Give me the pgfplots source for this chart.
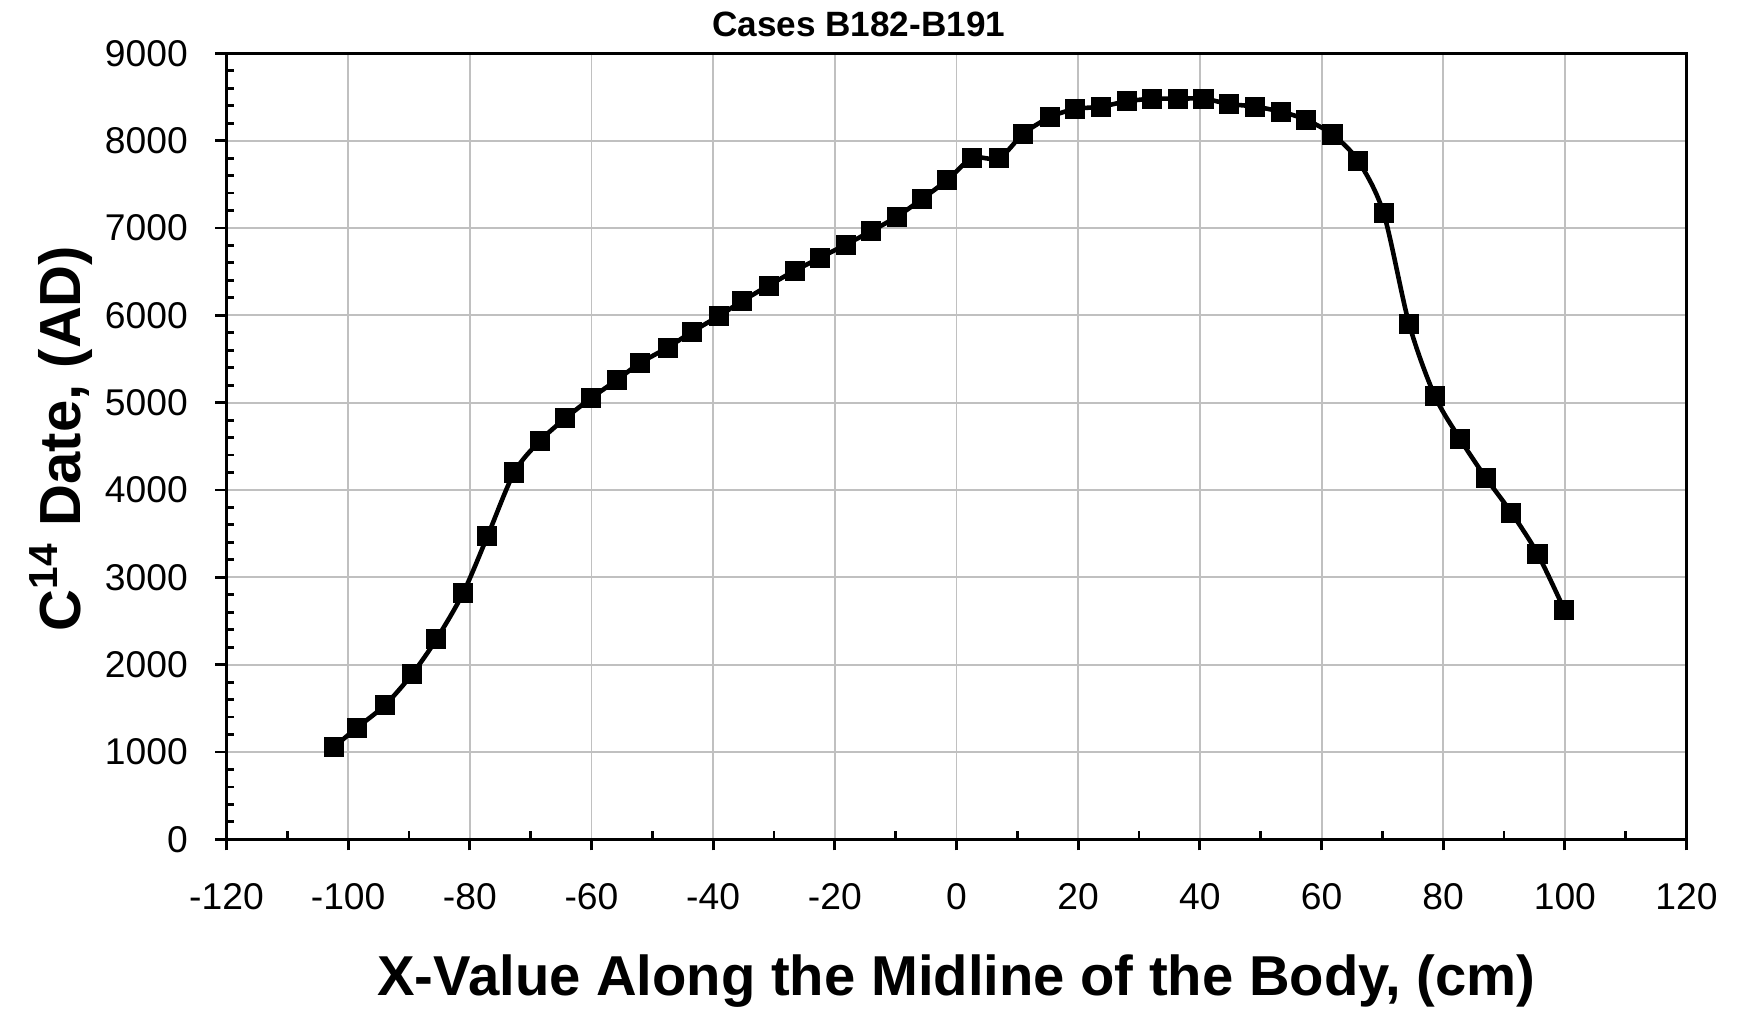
\documentclass[border=0pt]{standalone}
\usepackage{fontspec}
\setmainfont{Liberation Sans}
\usepackage{pgfplots}
\pgfplotsset{compat=1.18}
\definecolor{gridgray}{HTML}{C0C0C0}

\begin{document}
\begin{tikzpicture}
\begin{axis}[
    scale only axis,
    width=146mm, height=78.6mm,
    xmin=-120, xmax=120, ymin=0, ymax=9000,
    xtick distance=20, ytick distance=1000,
    minor x tick num=1, minor y tick num=4,
    xtick pos=bottom, ytick pos=left,
    tick align=outside,
    major tick length=1.1mm, minor tick length=0.8mm,
    minor x tick style={yshift=0.8mm},
    minor y tick style={xshift=0.8mm},
    tick style={black, line width=0.8pt},
    axis line style={line width=0.85pt},
    grid=major,
    major grid style={gridgray, line width=0.55pt},
    scaled ticks=false,
    /pgf/number format/assume math mode=true,
    /pgf/number format/1000 sep={},
    ticklabel style={font=\fontsize{10.6pt}{12pt}\selectfont, inner sep=0pt},
    xticklabel style={anchor=north, yshift=-3.2mm},
    yticklabel style={anchor=east, xshift=-2.7mm},
    title={\textbf{Cases B182-B191}},
    % the default title style already lifts it by 6pt
    title style={font=\fontsize{10pt}{12pt}\selectfont, at={(axis description cs:0.433,1)}, anchor=base, inner sep=0pt, yshift=-1.2pt},
    xlabel={\textbf{X-Value Along the Midline of the Body, (cm)}},
    xlabel style={font=\fontsize{16pt}{19pt}\selectfont, at={(axis description cs:0.5,-0.199)}, anchor=base, inner sep=0pt},
    ylabel={\textbf{C\textsuperscript{14} Date, (AD)}},
    ylabel style={font=\fontsize{16.5pt}{19pt}\selectfont, at={(axis description cs:-0.1003,0.51)}, anchor=base, inner sep=0pt},
]
\addplot[black, line width=1.3pt, smooth, tension=0.5, mark=square*, mark size=2.2pt, mark options={solid, fill=black}] coordinates {
(-102.3,1060) (-98.5,1280) (-93.9,1540) (-89.5,1890) (-85.5,2290) (-81.1,2820)
(-77.1,3470) (-72.7,4200) (-68.5,4560) (-64.3,4820) (-60.1,5050) (-55.8,5260)
(-52.1,5450) (-47.5,5630) (-43.5,5810) (-39.1,5990) (-35.3,6160) (-30.9,6340)
(-26.6,6510) (-22.4,6660) (-18.2,6810) (-14.1,6960) (-9.8,7130) (-5.7,7330)
(-1.5,7550) (2.6,7800) (7.0,7800) (11.0,8080) (15.4,8270) (19.4,8360)
(23.8,8390) (28.0,8450) (32.2,8480) (36.4,8480) (40.6,8480) (44.8,8420)
(49.0,8390) (53.4,8330) (57.4,8240) (61.8,8070) (66.0,7770) (70.2,7170)
(74.4,5900) (78.6,5080) (82.8,4580) (87.0,4140) (91.2,3740) (95.5,3270)
(99.9,2630)
};
\coordinate (bl) at (rel axis cs:-0.1551,-0.2208);
\coordinate (tr) at (rel axis cs:1.0373,1.0678);
\end{axis}
\path (bl) rectangle (tr);
\end{tikzpicture}
\end{document}
